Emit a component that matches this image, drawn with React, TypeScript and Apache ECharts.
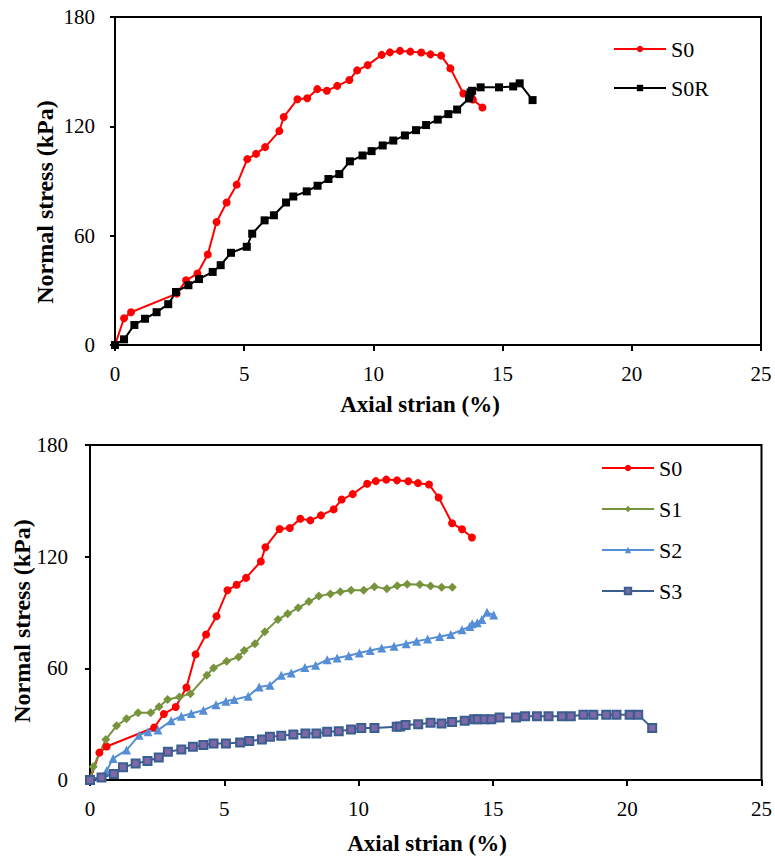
import React, { useEffect, useRef } from "react";
import * as echarts from "echarts";

const xTicks = [0, 5, 10, 15, 20, 25];
const yTicks = [0, 60, 120, 180];

const s0X = [0, 0.35, 0.62, 2.39, 2.75, 3.19, 3.59, 3.93, 4.32, 4.71, 5.12, 5.46, 5.81, 6.36, 6.53, 7.06, 7.44, 7.83, 8.2, 8.6, 9.07, 9.37, 9.78, 10.32, 10.64, 11.03, 11.43, 11.85, 12.21, 12.62, 12.98, 13.48, 13.85, 14.22];
const s0Y = [0, 14.7, 18, 28.2, 35.5, 39.2, 49.7, 67.5, 78.2, 88, 102, 104.9, 108.6, 117.4, 125.1, 134.9, 135.4, 140.4, 139.5, 142.2, 145.4, 150.7, 153.6, 159.2, 160.6, 161.4, 161, 160.5, 159.5, 158.8, 151.8, 138, 134.7, 130.3];

const s0rX = [0, 0.35, 0.75, 1.16, 1.61, 2.06, 2.36, 2.84, 3.25, 3.78, 4.09, 4.49, 5.1, 5.31, 5.79, 6.15, 6.62, 6.9, 7.42, 7.84, 8.26, 8.68, 9.09, 9.58, 9.93, 10.36, 10.77, 11.22, 11.65, 12.04, 12.49, 12.9, 13.24, 13.7, 13.72, 13.76, 13.82, 14.15, 14.86, 15.41, 15.66, 16.16];
const s0rY = [0, 3.1, 11, 14.4, 18, 22.4, 29.1, 32.8, 36.2, 40.1, 43.8, 50.6, 53.9, 61.1, 68.4, 71.2, 78.2, 81.5, 84.3, 87.4, 91.1, 93.8, 100.8, 104, 106.4, 109.5, 112.2, 115, 117.9, 120.7, 123.7, 126.7, 129.2, 135.3, 137.1, 138.6, 139.5, 141.4, 141.4, 141.9, 143.6, 134.4];

const s1X = [0, 0.12, 0.59, 0.99, 1.36, 1.79, 2.26, 2.57, 2.89, 3.33, 3.74, 4.35, 4.6, 5.09, 5.53, 5.74, 6.14, 6.51, 7.0, 7.36, 7.75, 8.15, 8.52, 8.95, 9.32, 9.72, 10.19, 10.59, 11.05, 11.44, 11.81, 12.28, 12.68, 13.09, 13.49];
const s1Y = [0, 7.1, 21.8, 29.1, 32.9, 36.1, 36.1, 39.3, 43.2, 44.6, 46.4, 56.3, 60.2, 63.8, 66.1, 69.6, 73.2, 79.6, 86.3, 89.3, 92.5, 95.9, 98.8, 100, 101.2, 101.9, 101.9, 103.9, 102.7, 104.4, 105.2, 105, 104.3, 103.6, 103.6];

const s2X = [0, 0.37, 0.62, 0.86, 1.36, 1.83, 2.16, 2.53, 3.02, 3.4, 3.77, 4.22, 4.69, 5.06, 5.37, 5.89, 6.3, 6.7, 7.12, 7.49, 8.0, 8.4, 8.83, 9.2, 9.63, 10.03, 10.43, 10.86, 11.32, 11.77, 12.16, 12.57, 13.02, 13.43, 13.85, 14.14, 14.23, 14.42, 14.59, 14.78, 15.03];
const s2Y = [0, 1.8, 5, 11.6, 16.1, 24.1, 25.9, 26.8, 31.8, 34.3, 35.7, 37.5, 40.5, 42.3, 43.2, 45, 50, 50.9, 56.3, 57.5, 60.4, 61.6, 64.6, 65.5, 66.8, 68.2, 69.6, 70.9, 71.9, 73.2, 74.6, 75.7, 77.1, 78.2, 80.7, 82.5, 83.9, 84.5, 86.2, 90.1, 88.7];

const s3X = [0, 0.43, 0.89, 1.23, 1.7, 2.14, 2.56, 2.9, 3.4, 3.83, 4.22, 4.6, 5.06, 5.59, 5.93, 6.4, 6.7, 7.12, 7.57, 8.02, 8.43, 8.83, 9.26, 9.72, 10.1, 10.59, 11.42, 11.55, 11.75, 12.22, 12.68, 13.09, 13.48, 13.95, 14.3, 14.44, 14.69, 14.94, 15.25, 15.86, 16.2, 16.64, 17.07, 17.57, 17.9, 18.37, 18.74, 19.22, 19.6, 20.09, 20.41, 20.93];
const s3Y = [0, 1.3, 3.2, 6.8, 8.9, 10.2, 12.1, 15.2, 16.4, 17.9, 18.8, 19.6, 19.6, 20.2, 20.9, 21.8, 23.2, 23.8, 24.5, 25, 25, 25.9, 26.2, 27.1, 28, 28, 28.6, 28.8, 29.5, 30, 30.7, 30.4, 31.2, 31.8, 32.7, 32.7, 32.7, 32.7, 33.6, 33.6, 34.3, 34.3, 34.3, 34.3, 34.3, 35, 35, 35, 35, 35, 35, 28];

const xTitle = "Axial strian (%)";
const yTitle = "Normal stress (kPa)";

const FONT = "Times New Roman, Liberation Serif, DejaVu Serif, serif";

const zip = (xs: number[], ys: number[]) => xs.map((x, i) => [x, ys[i]]);

export default function App() {
  const ref = useRef<HTMLDivElement>(null);

  useEffect(() => {
    if (!ref.current) return;
    const chart = echarts.init(ref.current, undefined, { renderer: "svg" });

    const xAxisBase = (gridIndex: number) => ({
      type: "value",
      gridIndex,
      min: xTicks[0],
      max: xTicks[xTicks.length - 1],
      interval: xTicks[1] - xTicks[0],
      splitLine: { show: false },
      axisLine: { show: true, onZero: false, lineStyle: { color: "#000", width: 2 } },
      axisTick: { show: true, inside: false, length: 6, lineStyle: { color: "#000", width: 2 } },
      axisLabel: { color: "#000", fontFamily: FONT, fontSize: 21, margin: 18 },
    });
    const yAxisBase = (gridIndex: number, margin: number) => ({
      type: "value",
      gridIndex,
      min: yTicks[0],
      max: yTicks[yTicks.length - 1],
      interval: yTicks[1] - yTicks[0],
      splitLine: { show: false },
      axisLine: { show: true, onZero: false, lineStyle: { color: "#000", width: 2 } },
      axisTick: { show: true, inside: false, length: 5, lineStyle: { color: "#000", width: 2 } },
      axisLabel: { color: "#000", fontFamily: FONT, fontSize: 21, margin },
    });

    const lineSeries = (
      name: string,
      xi: number,
      data: number[][],
      color: string,
      symbol: string,
      size: number,
      fill?: string
    ) => ({
      name,
      type: "line",
      xAxisIndex: xi,
      yAxisIndex: xi,
      data,
      symbol,
      symbolSize: size,
      showSymbol: true,
      lineStyle: { color, width: 2 },
      itemStyle: fill
        ? { color: fill, borderColor: color, borderWidth: 2 }
        : { color, borderWidth: 0 },
      emphasis: { disabled: true },
      z: 3,
    });

    const legendText = { color: "#000", fontFamily: FONT, fontSize: 22, lineHeight: 22 };

    const titleStyle = (text: string, size: number) => ({
      text,
      fill: "#000",
      fontFamily: FONT,
      fontSize: size,
      fontWeight: "bold",
      align: "center",
      verticalAlign: "middle",
    });

    chart.setOption({
      animation: false,
      backgroundColor: "#fff",
      textStyle: { fontFamily: FONT },
      grid: [
        { left: 115, top: 17, width: 646, height: 328, show: true, borderColor: "#000", borderWidth: 2, backgroundColor: "transparent" },
        { left: 90, top: 445, width: 675, height: 335, show: true, borderColor: "#000", borderWidth: 2, backgroundColor: "transparent" },
      ],
      xAxis: [xAxisBase(0), xAxisBase(1)],
      yAxis: [yAxisBase(0, 20), yAxisBase(1, 22)],
      legend: [
        {
          orient: "vertical",
          left: 608,
          top: 33,
          itemWidth: 52,
          itemHeight: 8,
          itemGap: 17,
          data: ["S0", "S0R"],
          textStyle: legendText,
          selectedMode: false,
        },
        {
          orient: "vertical",
          left: 596,
          top: 452,
          itemWidth: 52,
          itemHeight: 8,
          itemGap: 19,
          data: ["S0", "S1", "S2", "S3"],
          textStyle: legendText,
          selectedMode: false,
        },
      ],
      series: [
        lineSeries("S0", 0, zip(s0X, s0Y), "#FF0000", "circle", 8),
        lineSeries("S0R", 0, zip(s0rX, s0rY), "#000000", "rect", 8),
        lineSeries("S0", 1, zip(s0X, s0Y), "#FF0000", "circle", 8),
        lineSeries("S1", 1, zip(s1X, s1Y), "#77933C", "diamond", 9),
        lineSeries("S2", 1, zip(s2X, s2Y), "#558ED5", "triangle", 9),
        lineSeries("S3", 1, zip(s3X, s3Y), "#3B5E91", "rect", 8, "#7E68A6"),
      ],
      graphic: [
        { type: "text", x: 420, y: 404, style: titleStyle(xTitle, 23) },
        { type: "text", x: 427, y: 843, style: titleStyle(xTitle, 23) },
        { type: "text", x: 45, y: 202, rotation: Math.PI / 2, style: titleStyle(yTitle, 24) },
        { type: "text", x: 22, y: 621, rotation: Math.PI / 2, style: titleStyle(yTitle, 24) },
      ],
    });

    return () => chart.dispose();
  }, []);

  return (
    <div
      ref={ref}
      style={{ position: "absolute", left: 0, top: 0, width: 775, height: 856, background: "#fff" }}
    />
  );
}
